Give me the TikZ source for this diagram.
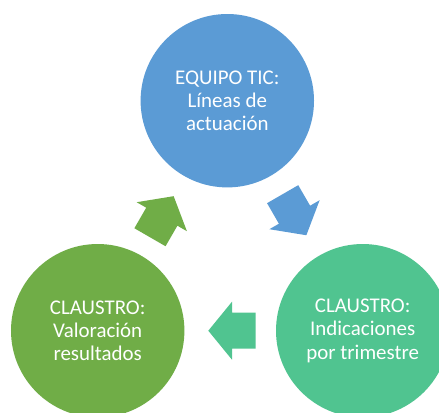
\documentclass[tikz,border=0pt]{standalone}
\usepackage{fontspec}
\setmainfont{Carlito}
\definecolor{cblue}{RGB}{91,155,213}
\definecolor{cgreen}{RGB}{112,173,71}
\definecolor{cteal}{RGB}{80,196,144}
\begin{document}
\begin{tikzpicture}[x=1bp,y=-1bp]
\tikzset{
  bubble/.style={circle, minimum size=173.4bp, inner sep=0pt, text=white, align=center,
    font=\fontsize{21}{23.3}\selectfont},
  blockarrow/.pic={\fill (-23.7,-18) -- (0,-18) -- (0,-29) -- (23.7,0) -- (0,29) -- (0,18) -- (-23.7,18) -- cycle;}
}
\useasboundingbox (0,0) rectangle (439,412);
\fill[white] (0,0) rectangle (439,412);
\node[bubble, fill=cblue] (tic) at (227.3,100.7) {EQUIPO TIC:\\Líneas de\\actuación};
\node[bubble, fill=cgreen] (val) at (97.7,330.7) {CLAUSTRO:\\Valoración\\resultados};
\node[bubble, fill=cteal] (ind) at (362.7,330.7) {CLAUSTRO:\\Indicaciones\\por trimestre};
\pic[cblue, rotate=-60] (a1) at (294.5,214.7) {blockarrow};
\pic[cteal, rotate=180] (a2) at (232,330.7) {blockarrow};
\pic[cgreen, rotate=60] (a3) at (161.8,216.7) {blockarrow};
\end{tikzpicture}
\end{document}
